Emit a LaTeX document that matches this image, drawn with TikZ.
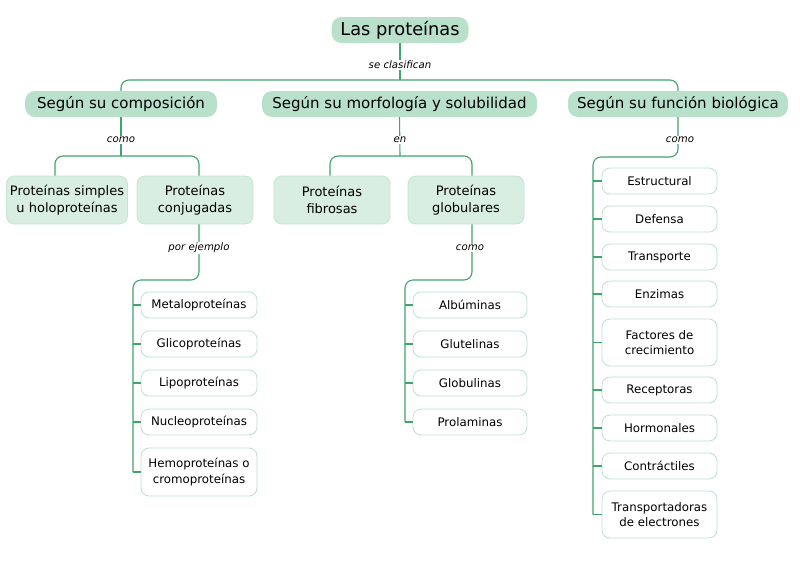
\documentclass[tikz,border=0pt]{standalone}
\usepackage{fontspec}
\setmainfont{DejaVu Sans}
\usetikzlibrary{calc}
\definecolor{lineg}{HTML}{3FA56B}
\definecolor{l1fill}{HTML}{B9E0CA}
\definecolor{l2fill}{HTML}{D8EEE2}
\definecolor{l2draw}{HTML}{C4E5D2}
\definecolor{leafdraw}{HTML}{BCE2CC}
\tikzset{
  rootbox/.style={fill=l1fill, rounded corners=10pt, minimum width=137pt, minimum height=26pt, inner sep=0pt, font=\fontsize{17.8}{20}\selectfont},
  lonebox/.style={fill=l1fill, rounded corners=10pt, minimum height=26pt, inner sep=0pt, font=\fontsize{15}{17}\selectfont},
  ltwobox/.style={fill=l2fill, draw=l2draw, line width=0.8pt, rounded corners=8pt, minimum height=48pt, inner sep=0pt, align=center, font=\fontsize{13}{16.5}\selectfont},
  leafbox/.style={fill=white, draw=leafdraw, line width=0.8pt, rounded corners=8pt, minimum height=26pt, inner sep=0pt, align=center, font=\fontsize{11.8}{15.5}\selectfont},
  conn/.style={draw=lineg, line width=1.1pt},
  lbl/.style={fill=white, inner sep=1.5pt, font=\fontsize{10.2}{12}\selectfont\itshape},
}
\begin{document}
\begin{tikzpicture}[x=1pt,y=-1pt]
\useasboundingbox (0,0) rectangle (800,563);
% nodes
\node[rootbox] (root) at (400,30) {Las proteínas};
\node[lonebox, minimum width=192pt] (comp) at (121,104) {Según su composición};
\node[lonebox, minimum width=275pt] (morf) at (399.5,104) {Según su morfología y solubilidad};
\node[lonebox, minimum width=220pt] (func) at (678,104) {Según su función biológica};
\node[ltwobox, minimum width=121pt] (simp) at (67,200) {Proteínas simples\\u holoproteínas};
\node[ltwobox, minimum width=116pt] (conj) at (195,200) {Proteínas\\conjugadas};
\node[ltwobox, minimum width=116pt] (fib) at (332,200) {Proteínas\\fibrosas};
\node[ltwobox, minimum width=116pt] (glob) at (466,200) {Proteínas\\globulares};
% left leaves
\node[leafbox, minimum width=116pt] (metal) at (199,305) {Metaloproteínas};
\node[leafbox, minimum width=116pt] (glico) at (199,344) {Glicoproteínas};
\node[leafbox, minimum width=116pt] (lipo) at (199,383) {Lipoproteínas};
\node[leafbox, minimum width=116pt] (nucl) at (199,422) {Nucleoproteínas};
\node[leafbox, minimum width=116pt, minimum height=48pt] (hemo) at (199,472) {Hemoproteínas o\\cromoproteínas};
% middle leaves
\node[leafbox, minimum width=114pt] (albu) at (470,305) {Albúminas};
\node[leafbox, minimum width=114pt] (glut) at (470,344) {Glutelinas};
\node[leafbox, minimum width=114pt] (glbl) at (470,383) {Globulinas};
\node[leafbox, minimum width=114pt] (prol) at (470,422) {Prolaminas};
% right leaves
\node[leafbox, minimum width=115pt] (estr) at (659.5,181) {Estructural};
\node[leafbox, minimum width=115pt] (defe) at (659.5,219) {Defensa};
\node[leafbox, minimum width=115pt] (tran) at (659.5,257) {Transporte};
\node[leafbox, minimum width=115pt] (enzi) at (659.5,294) {Enzimas};
\node[leafbox, minimum width=115pt, minimum height=47pt] (fact) at (659.5,342.5) {Factores de\\crecimiento};
\node[leafbox, minimum width=115pt] (rece) at (659.5,390) {Receptoras};
\node[leafbox, minimum width=115pt] (horm) at (659.5,428) {Hormonales};
\node[leafbox, minimum width=115pt] (cont) at (659.5,466) {Contráctiles};
\node[leafbox, minimum width=115pt, minimum height=47pt] (tred) at (659.5,514.5) {Transportadoras\\de electrones};
% junction coordinates
\coordinate (j0) at (400,80);
\coordinate (j1) at (121,156);
\coordinate (j2) at (400,156);
\coordinate (j3) at (593,157);
\coordinate (j4) at (133,280);
\coordinate (j5) at (405,280);
\coordinate (s1) at ($(simp.north)+(-12,0)$);
\coordinate (s2) at ($(conj.north)+(4,0)$);
\coordinate (s3) at ($(fib.north)+(-2,0)$);
\coordinate (s4) at ($(glob.north)+(6,0)$);
\coordinate (b1) at ($(conj.south)+(4,0)$);
\coordinate (b2) at ($(glob.south)+(6,0)$);
% connectors
\begin{scope}[rounded corners=8pt]
\draw[conn] (root.south) -- (j0);
\draw[conn] (comp.north) |- (j0) -| (func.north);
\draw[conn] (comp.south) -- (j1);
\draw[conn] (s1) |- (j1) -| (s2);
\draw[conn] (morf.south) -- (j2);
\draw[conn] (s3) |- (j2) -| (s4);
\draw[conn] (func.south) |- (j3) -- (j3 |- tred.west);
\draw[conn] (b1) |- (j4) -- (j4 |- hemo.west);
\draw[conn] (b2) |- (j5) -- (j5 |- prol.west);
\end{scope}
\foreach \n in {metal,glico,lipo,nucl,hemo}{\draw[conn] (j4 |- \n.west) -- (\n.west);}
\foreach \n in {albu,glut,glbl,prol}{\draw[conn] (j5 |- \n.west) -- (\n.west);}
\foreach \n in {estr,defe,tran,enzi,fact,rece,horm,cont,tred}{\draw[conn] (j3 |- \n.west) -- (\n.west);}
% labels
\node[lbl] (t0) at (400,65) {se clasifican};
\node[lbl] (t1) at (121,140) {como};
\node[lbl] (t2) at (400,140) {en};
\node[lbl] (t3) at (680,140) {como};
\node[lbl] (t4) at (199,248) {por ejemplo};
\node[lbl] (t5) at (470,248) {como};
\end{tikzpicture}
\end{document}
